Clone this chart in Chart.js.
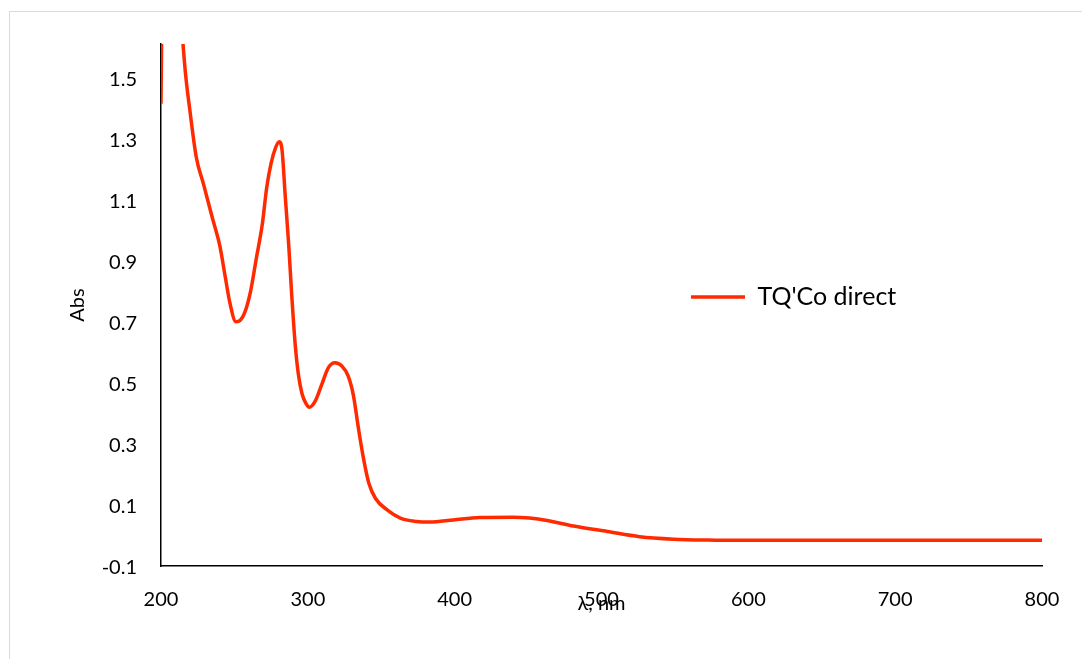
<!DOCTYPE html>
<html>
<head>
<meta charset="utf-8">
<script src="https://cdn.jsdelivr.net/npm/chart.js@4.4.0/dist/chart.umd.min.js"></script>
<style>
  html, body { margin: 0; padding: 0; background: #fff; overflow: hidden; }
  #wrap { position: relative; width: 1082px; height: 659px; }
  #frame { position: absolute; left: 9px; top: 11px; width: 1090px; height: 700px; border: 1px solid #d9d9d9; box-sizing: border-box; }
  #c { position: absolute; left: 0; top: 0; }
</style>
</head>
<body>
<div id="wrap">
  <div id="frame"></div>
  <canvas id="c" width="1082" height="659"></canvas>
</div>
<script>
// Wavelength (nm)
const wavelengths = [200, 201, 205, 210, 213, 216, 220, 224, 229, 235, 240, 244, 247, 251, 254, 257, 261, 265, 269, 272, 275, 278, 280.5, 282.5, 284.5, 287, 289, 291.5, 293.5, 296, 299, 301, 305, 309.5, 314, 318.5, 323, 327.5, 331, 334.5, 338, 341.5, 346, 354, 363, 374, 383, 399, 417, 440, 451, 463, 481, 504, 526, 549, 572, 600, 650, 700, 750, 800];
// Absorbance
const absorbance = [1.414, 1.9, 2.6, 2.3, 1.78, 1.55, 1.38, 1.24, 1.15, 1.04, 0.95, 0.84, 0.76, 0.70, 0.705, 0.73, 0.80, 0.91, 1.02, 1.14, 1.22, 1.27, 1.29, 1.26, 1.12, 0.95, 0.79, 0.62, 0.53, 0.465, 0.43, 0.42, 0.44, 0.495, 0.55, 0.566, 0.556, 0.522, 0.46, 0.35, 0.25, 0.172, 0.122, 0.084, 0.057, 0.046, 0.044, 0.051, 0.059, 0.06, 0.057, 0.049, 0.031, 0.013, -0.004, -0.012, -0.015, -0.016, -0.016, -0.016, -0.016, -0.016];
const seriesName = "TQ'Co direct";
const yTickValues = [-0.1, 0.1, 0.3, 0.5, 0.7, 0.9, 1.1, 1.3, 1.5];
const xTickValues = [200, 300, 400, 500, 600, 700, 800];

const points = wavelengths.map((w, i) => ({ x: w, y: absorbance[i] }));
const FONT = "Lato, 'Open Sans', sans-serif";

const legendMover = {
  id: 'legendMover',
  afterLayout(chart) {
    const l = chart.legend;
    if (!l) return;
    const w = l.width;
    l.left = 691; l.right = 691 + w;
    l.top = 284.5; l.bottom = 284.5 + 100;
  }
};

new Chart(document.getElementById('c'), {
  type: 'line',
  data: {
    datasets: [{
      label: seriesName,
      data: points,
      borderColor: '#ff2a00',
      backgroundColor: '#ff2a00',
      borderWidth: 3.5,
      pointRadius: 0,
      fill: false,
      cubicInterpolationMode: 'monotone',
      clip: 0
    }]
  },
  options: {
    responsive: false,
    animation: false,
    layout: { padding: { left: 0, right: 40, top: 44, bottom: 0 } },
    plugins: {
      tooltip: { enabled: false },
      legend: {
        position: 'chartArea',
        align: 'start',
        labels: {
          usePointStyle: true,
          pointStyle: 'line',
          pointStyleWidth: 54,
          padding: 0,
          color: '#000',
          font: { family: FONT, size: 25 }
        }
      }
    },
    scales: {
      x: {
        type: 'linear',
        min: 200, max: 800,
        afterFit(s) { s.height = 93; },
        afterBuildTicks(s) { s.ticks = xTickValues.map(v => ({ value: v })); },
        grid: { display: true, drawOnChartArea: false, drawTicks: false },
        border: { display: true, color: '#000', width: 1.5 },
        ticks: { color: '#000', padding: 22, font: { family: FONT, size: 20 }, maxRotation: 0 },
        title: { display: true, text: 'λ, nm', color: '#000', font: { family: FONT, size: 20 }, padding: { top: 0, bottom: 43 } }
      },
      y: {
        type: 'linear',
        min: -0.1, max: 1.61,
        afterFit(s) { s.width = 161; },
        afterBuildTicks(s) { s.ticks = yTickValues.map(v => ({ value: v })); },
        grid: { display: true, drawOnChartArea: false, drawTicks: false },
        border: { display: true, color: '#000', width: 1.5 },
        ticks: { color: '#000', padding: 24, labelOffset: 2, font: { family: FONT, size: 20 }, callback: v => Number(v).toFixed(1) },
        title: { display: true, text: 'Abs', color: '#000', font: { family: FONT, size: 20 }, padding: { top: 66, bottom: 0 } }
      }
    }
  },
  plugins: [legendMover]
});
</script>
</body>
</html>
